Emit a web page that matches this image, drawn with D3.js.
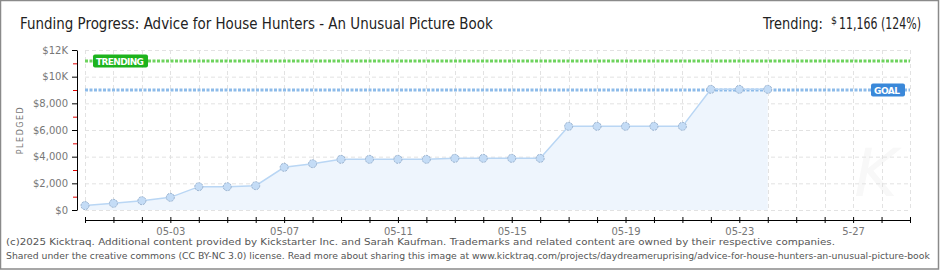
<!DOCTYPE html>
<html lang="en">
<head>
    <meta charset="UTF-8">
    <title>Funding Progress</title>
    <style>
        body { margin: 0; background: #fff; }
        svg { display: block; }
        .axis text { font-family: "DejaVu Sans", sans-serif; font-size: 10px; fill: #777; }
    </style>
</head>
<body>
<div id="chart"></div>

<script src="https://cdnjs.cloudflare.com/ajax/libs/d3/7.8.5/d3.min.js"></script>
<script>
    // days with a pledge snapshot
    var days = ["2025-04-30", "2025-05-01", "2025-05-02", "2025-05-03", "2025-05-04", "2025-05-05",
        "2025-05-06", "2025-05-07", "2025-05-08", "2025-05-09", "2025-05-10", "2025-05-11",
        "2025-05-12", "2025-05-13", "2025-05-14", "2025-05-15", "2025-05-16", "2025-05-17",
        "2025-05-18", "2025-05-19", "2025-05-20", "2025-05-21", "2025-05-22", "2025-05-23",
        "2025-05-24"];
    var pledged = [330, 500, 700, 950, 1750, 1750, 1825, 3200, 3475, 3800, 3800, 3800, 3800,
        3875, 3875, 3875, 3875, 6275, 6275, 6275, 6275, 6275, 9050, 9050, 9050];

    var campaignRange = ["2025-04-30", "2025-05-29"];
    var xLabelDays = ["2025-05-03", "2025-05-07", "2025-05-11", "2025-05-15", "2025-05-19", "2025-05-23", "2025-05-27"];
    var xLabels = ["05-03", "05-07", "05-11", "05-15", "05-19", "05-23", "5-27"];

    var yTicks = [0, 2000, 4000, 6000, 8000, 10000, 12000];
    var yLabels = ["$0", "$2,000", "$4,000", "$6,000", "$8,000", "$10K", "$12K"];
    var yMinorTicks = [1000, 3000, 5000, 7000, 9000, 11000];

    var goal = 9000;
    var trending = 11166;

    var W = 940, H = 270;
    var parse = d3.utcParse("%Y-%m-%d");
    var data = days.map(function (d, i) { return {date: parse(d), value: pledged[i]}; });

    var svg = d3.select("#chart").append("svg")
        .attr("width", W)
        .attr("height", H);

    var x = d3.scaleUtc()
        .domain(campaignRange.map(parse))
        .range([85, 910]);
    var y = d3.scaleLinear()
        .domain([0, 12000])
        .range([210, 50]);

    // squeeze a text horizontally so it spans w pixels starting at x0
    function squeezed(parent, x0, y0, w, str, size) {
        var t = parent.append("text").text(str);
        if (size) t.style("font-size", size);
        var k = w / t.node().getComputedTextLength();
        t.attr("transform", "translate(" + x0 + "," + y0 + ") scale(" + k + ",1)");
        return t;
    }

    // frame
    svg.append("rect")
        .attr("x", 0.5).attr("y", 0.5)
        .attr("width", W - 2).attr("height", H - 1.5)
        .attr("fill", "none").attr("stroke", "#8a8a8a").attr("stroke-width", 1.5);

    // title
    var head = svg.append("g")
        .style("font-family", "'DejaVu Sans', sans-serif")
        .style("font-size", "16px").style("fill", "#222");
    squeezed(head, 20, 29, 473, "Funding Progress: Advice for House Hunters - An Unusual Picture Book");

    // trending summary, split in three pieces (small raised $ sign)
    squeezed(head, 763, 29, 60, "Trending:");
    squeezed(head, 831, 24, 6, "$", "10px");
    squeezed(head, 839, 29, 82, d3.format(",")(trending) + " (" + Math.round(trending / goal * 100) + "%)");

    // watermark
    svg.append("text")
        .attr("x", 876).attr("y", 196)
        .attr("text-anchor", "middle")
        .style("font-family", "'DejaVu Sans', sans-serif").style("font-style", "italic")
        .style("font-size", "66px").style("fill", "#f8f8f8")
        .text("K");

    // grid
    var grid = svg.append("g");
    grid.selectAll(".hgrid")
        .data(yTicks)
        .enter().append("line")
        .attr("x1", 85).attr("x2", 910)
        .attr("y1", function (d) { return y(d) + 0.5; })
        .attr("y2", function (d) { return y(d) + 0.5; })
        .attr("stroke", "#e2e2e2").attr("stroke-dasharray", "4,3");
    grid.selectAll(".vgrid")
        .data(d3.utcDay.range(x.domain()[0], d3.utcDay.offset(x.domain()[1], 1)))
        .enter().append("line")
        .attr("x1", function (d) { return Math.round(x(d)) + 0.5; })
        .attr("x2", function (d) { return Math.round(x(d)) + 0.5; })
        .attr("y1", 50).attr("y2", 210)
        .attr("stroke", "#e2e2e2").attr("stroke-dasharray", "4,3");

    // area + line
    svg.append("path")
        .datum(data)
        .attr("fill", "#eef5fd")
        .attr("d", d3.area()
            .x(function (d) { return x(d.date); })
            .y0(y(0))
            .y1(function (d) { return y(d.value); }));

    // goal / trending lines
    svg.append("line")
        .attr("x1", 85).attr("x2", 910)
        .attr("y1", y(trending)).attr("y2", y(trending))
        .attr("stroke", "#6ed35e").attr("stroke-width", 3).attr("stroke-dasharray", "3,1.5");
    svg.append("line")
        .attr("x1", 85).attr("x2", 910)
        .attr("y1", y(goal)).attr("y2", y(goal))
        .attr("stroke", "#8dbbe9").attr("stroke-width", 3).attr("stroke-dasharray", "3,1.5");

    svg.append("path")
        .datum(data)
        .attr("fill", "none")
        .attr("stroke", "#b9d6f4").attr("stroke-width", 1.5)
        .attr("d", d3.line()
            .x(function (d) { return x(d.date); })
            .y(function (d) { return y(d.value); }));

    svg.selectAll(".dot")
        .data(data)
        .enter().append("circle")
        .attr("cx", function (d) { return x(d.date); })
        .attr("cy", function (d) { return y(d.value); })
        .attr("r", 4)
        .attr("fill", "#c4dcf6").attr("stroke", "#98b0cc").attr("stroke-width", 1)
        .attr("stroke-dasharray", "2,1");

    // labels on the reference lines
    function tag(x0, yc, w, color, label, tw) {
        svg.append("rect")
            .attr("x", x0).attr("y", yc - 6.5)
            .attr("width", w).attr("height", 13).attr("rx", 2)
            .attr("fill", color);
        svg.append("text")
            .attr("x", x0 + 3).attr("y", yc + 3.5)
            .attr("textLength", tw).attr("lengthAdjust", "spacing")
            .style("font-family", "'DejaVu Sans', sans-serif")
            .style("font-size", "9px").style("font-weight", "bold").style("fill", "#fff")
            .text(label);
    }
    tag(93, y(trending), 55, "#1db31d", "TRENDING", 48);
    tag(871, y(goal), 34, "#3a88d9", "GOAL", 26);

    // y axis
    var yAxis = svg.append("g")
        .attr("class", "axis")
        .attr("transform", "translate(77,0)")
        .call(d3.axisLeft(y)
            .tickValues(yTicks)
            .tickFormat(function (d, i) { return yLabels[i]; })
            .tickSize(5).tickSizeOuter(0).tickPadding(4));
    yAxis.selectAll("path, line").attr("stroke", "#000");
    svg.append("g")
        .selectAll("line")
        .data(yMinorTicks)
        .enter().append("line")
        .attr("x1", 73).attr("x2", 77)
        .attr("y1", function (d) { return y(d) + 0.5; })
        .attr("y2", function (d) { return y(d) + 0.5; })
        .attr("stroke", "#e00000");

    svg.append("text")
        .attr("transform", "translate(23,130) rotate(-90)")
        .attr("text-anchor", "middle")
        .style("font-family", "'DejaVu Sans', sans-serif")
        .style("font-size", "8px").style("fill", "#777")
        .style("letter-spacing", "1.5px")
        .text("PLEDGED");

    // x axis
    var labelMap = {};
    xLabelDays.forEach(function (d, i) { labelMap[d] = xLabels[i]; });
    var fmt = d3.utcFormat("%Y-%m-%d");
    var xAxis = svg.append("g")
        .attr("class", "axis")
        .attr("transform", "translate(0,220)")
        .call(d3.axisBottom(x)
            .ticks(d3.utcDay.every(1))
            .tickFormat(function (d) { return labelMap[fmt(d)] || ""; })
            .tickSize(3).tickSizeOuter(0).tickPadding(5));
    xAxis.selectAll("path, line").attr("stroke", "#000");
    xAxis.selectAll(".tick line").attr("y1", -3).attr("y2", 3);

    // footer
    var foot = svg.append("g")
        .style("font-family", "'DejaVu Sans', sans-serif")
        .style("font-size", "9.5px").style("fill", "#555");
    squeezed(foot, 6, 245, 830, "(c)2025 Kicktraq. Additional content provided by Kickstarter Inc. and Sarah Kaufman. Trademarks and related content are owned by their respective companies.");
    squeezed(foot, 6, 259, 926, "Shared under the creative commons (CC BY-NC 3.0) license. Read more about sharing this image at www.kicktraq.com/projects/daydreameruprising/advice-for-house-hunters-an-unusual-picture-book");
</script>
</body>
</html>
